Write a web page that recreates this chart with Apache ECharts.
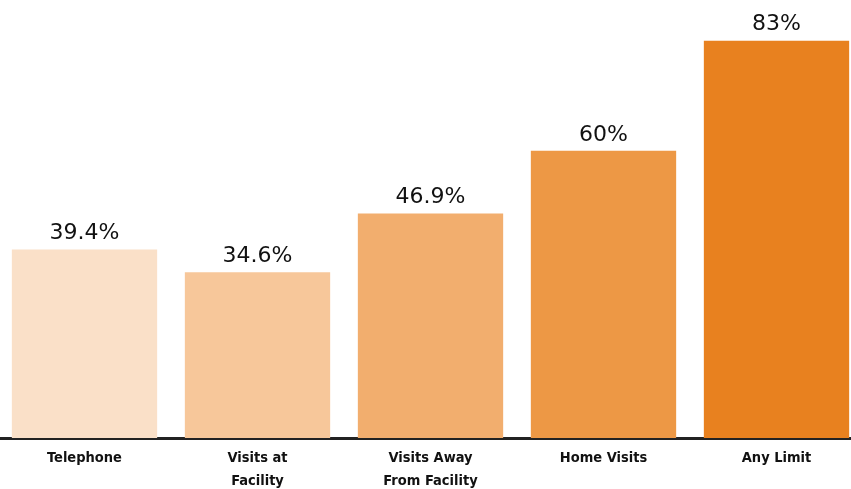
<!DOCTYPE html>
<html>
<head>
<meta charset="utf-8">
<script src="https://cdn.jsdelivr.net/npm/echarts@6/dist/echarts.min.js"></script>
<style>
  html, body { margin: 0; padding: 0; background: #fff; }
  #chart { width: 851px; height: 489px; }
</style>
</head>
<body>
<div id="chart"></div>
<script>
// categories and values
const categories = ['Telephone', 'Visits at\nFacility', 'Visits Away\nFrom Facility', 'Home Visits', 'Any Limit'];
const values = [39.4, 34.6, 46.9, 60, 83];
const valueLabels = ['39.4%', '34.6%', '46.9%', '60%', '83%'];
const barColors = ['#fae0c8', '#f7c79a', '#f2ae6e', '#ed9845', '#e8811f'];

const chart = echarts.init(document.getElementById('chart'));

const option = {
    animation: false,
    grid: {
        top: 0,
        bottom: 51,
        left: -2,
        right: -12,
        containLabel: false,
        outerBoundsMode: 'none'
    },
    xAxis: {
        type: 'category',
        data: categories,
        axisTick: { show: false },
        axisLine: {
            lineStyle: { color: '#222', width: 3 }
        },
        axisLabel: {
            interval: 0,
            margin: 9,
            color: '#111',
            fontFamily: "'DejaVu Sans Condensed', sans-serif",
            fontWeight: 'bold',
            fontSize: 14.5,
            lineHeight: 23
        }
    },
    yAxis: {
        type: 'value',
        min: 0,
        max: 91.5,
        show: false,
        splitLine: { show: false }
    },
    series: [{
        type: 'bar',
        barCategoryGap: '16%',
        data: values.map((v, i) => ({
            value: v,
            itemStyle: { color: barColors[i] }
        })),
        label: {
            show: true,
            position: 'top',
            distance: 5,
            color: '#111',
            fontFamily: "'DejaVu Sans', sans-serif",
            fontSize: 22,
            formatter: (p) => valueLabels[p.dataIndex]
        }
    }]
};

chart.setOption(option);
</script>
</body>
</html>
